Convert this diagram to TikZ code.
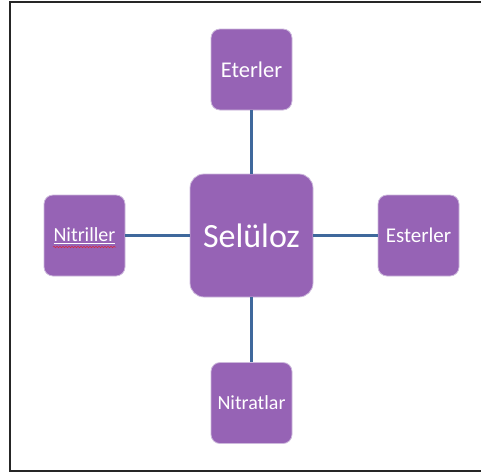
\documentclass[tikz,border=0pt]{standalone}
\usepackage{fontspec}
\setmainfont{Carlito}
\usetikzlibrary{decorations.pathmorphing}
\definecolor{boxpurple}{RGB}{150,99,181}
\definecolor{boxedge}{RGB}{205,185,220}
\definecolor{linkblue}{RGB}{63,104,156}
\definecolor{spellred}{RGB}{220,40,60}
\tikzset{
  conceptbox/.style={draw=boxedge, line width=0.8pt, fill=boxpurple, rounded corners=9pt,
    text=white, inner sep=0pt, align=center},
  smallbox/.style={conceptbox, minimum width=81pt, minimum height=81pt},
  bigbox/.style={conceptbox, minimum width=123pt, minimum height=123pt, rounded corners=14pt},
  link/.style={draw=linkblue, line width=2.2pt},
  frame/.style={draw=black!85, line width=2.2pt}
}
\begin{document}
\begin{tikzpicture}[x=1pt,y=-1pt]
  \useasboundingbox (0,0) rectangle (481,475);
  % outer frame (its right side runs past the page edge)
  \draw[frame] (490,2) -- (10,2) -- (10,471) -- (490,471);

  \node[bigbox]   (sel) at (251.5,235.5) {\fontsize{34}{36}\selectfont Selüloz};
  \node[smallbox] (ete) at (251.5,69.5)  {\fontsize{22.5}{25}\selectfont Eterler};
  \node[smallbox] (nta) at (251.5,403)   {\fontsize{20}{23}\selectfont Nitratlar};
  \node[smallbox] (nit) at (84.5,235.5)  {\fontsize{20}{23}\selectfont \underline{Nitriller}};
  \node[smallbox] (est) at (418.5,235.5) {\fontsize{21}{24}\selectfont Esterler};

  % spell-check squiggle under the left label
  \coordinate (sqA) at (53,247);
  \coordinate (sqB) at (116,247);
  \draw[spellred, line width=0.5pt, decorate,
        decoration={snake, amplitude=0.8pt, segment length=3pt}] (sqA) -- (sqB);

  \draw[link] (ete.south) -- (sel.north);
  \draw[link] (sel.south) -- (nta.north);
  \draw[link] (nit.east)  -- (sel.west);
  \draw[link] (sel.east)  -- (est.west);
\end{tikzpicture}
\end{document}
